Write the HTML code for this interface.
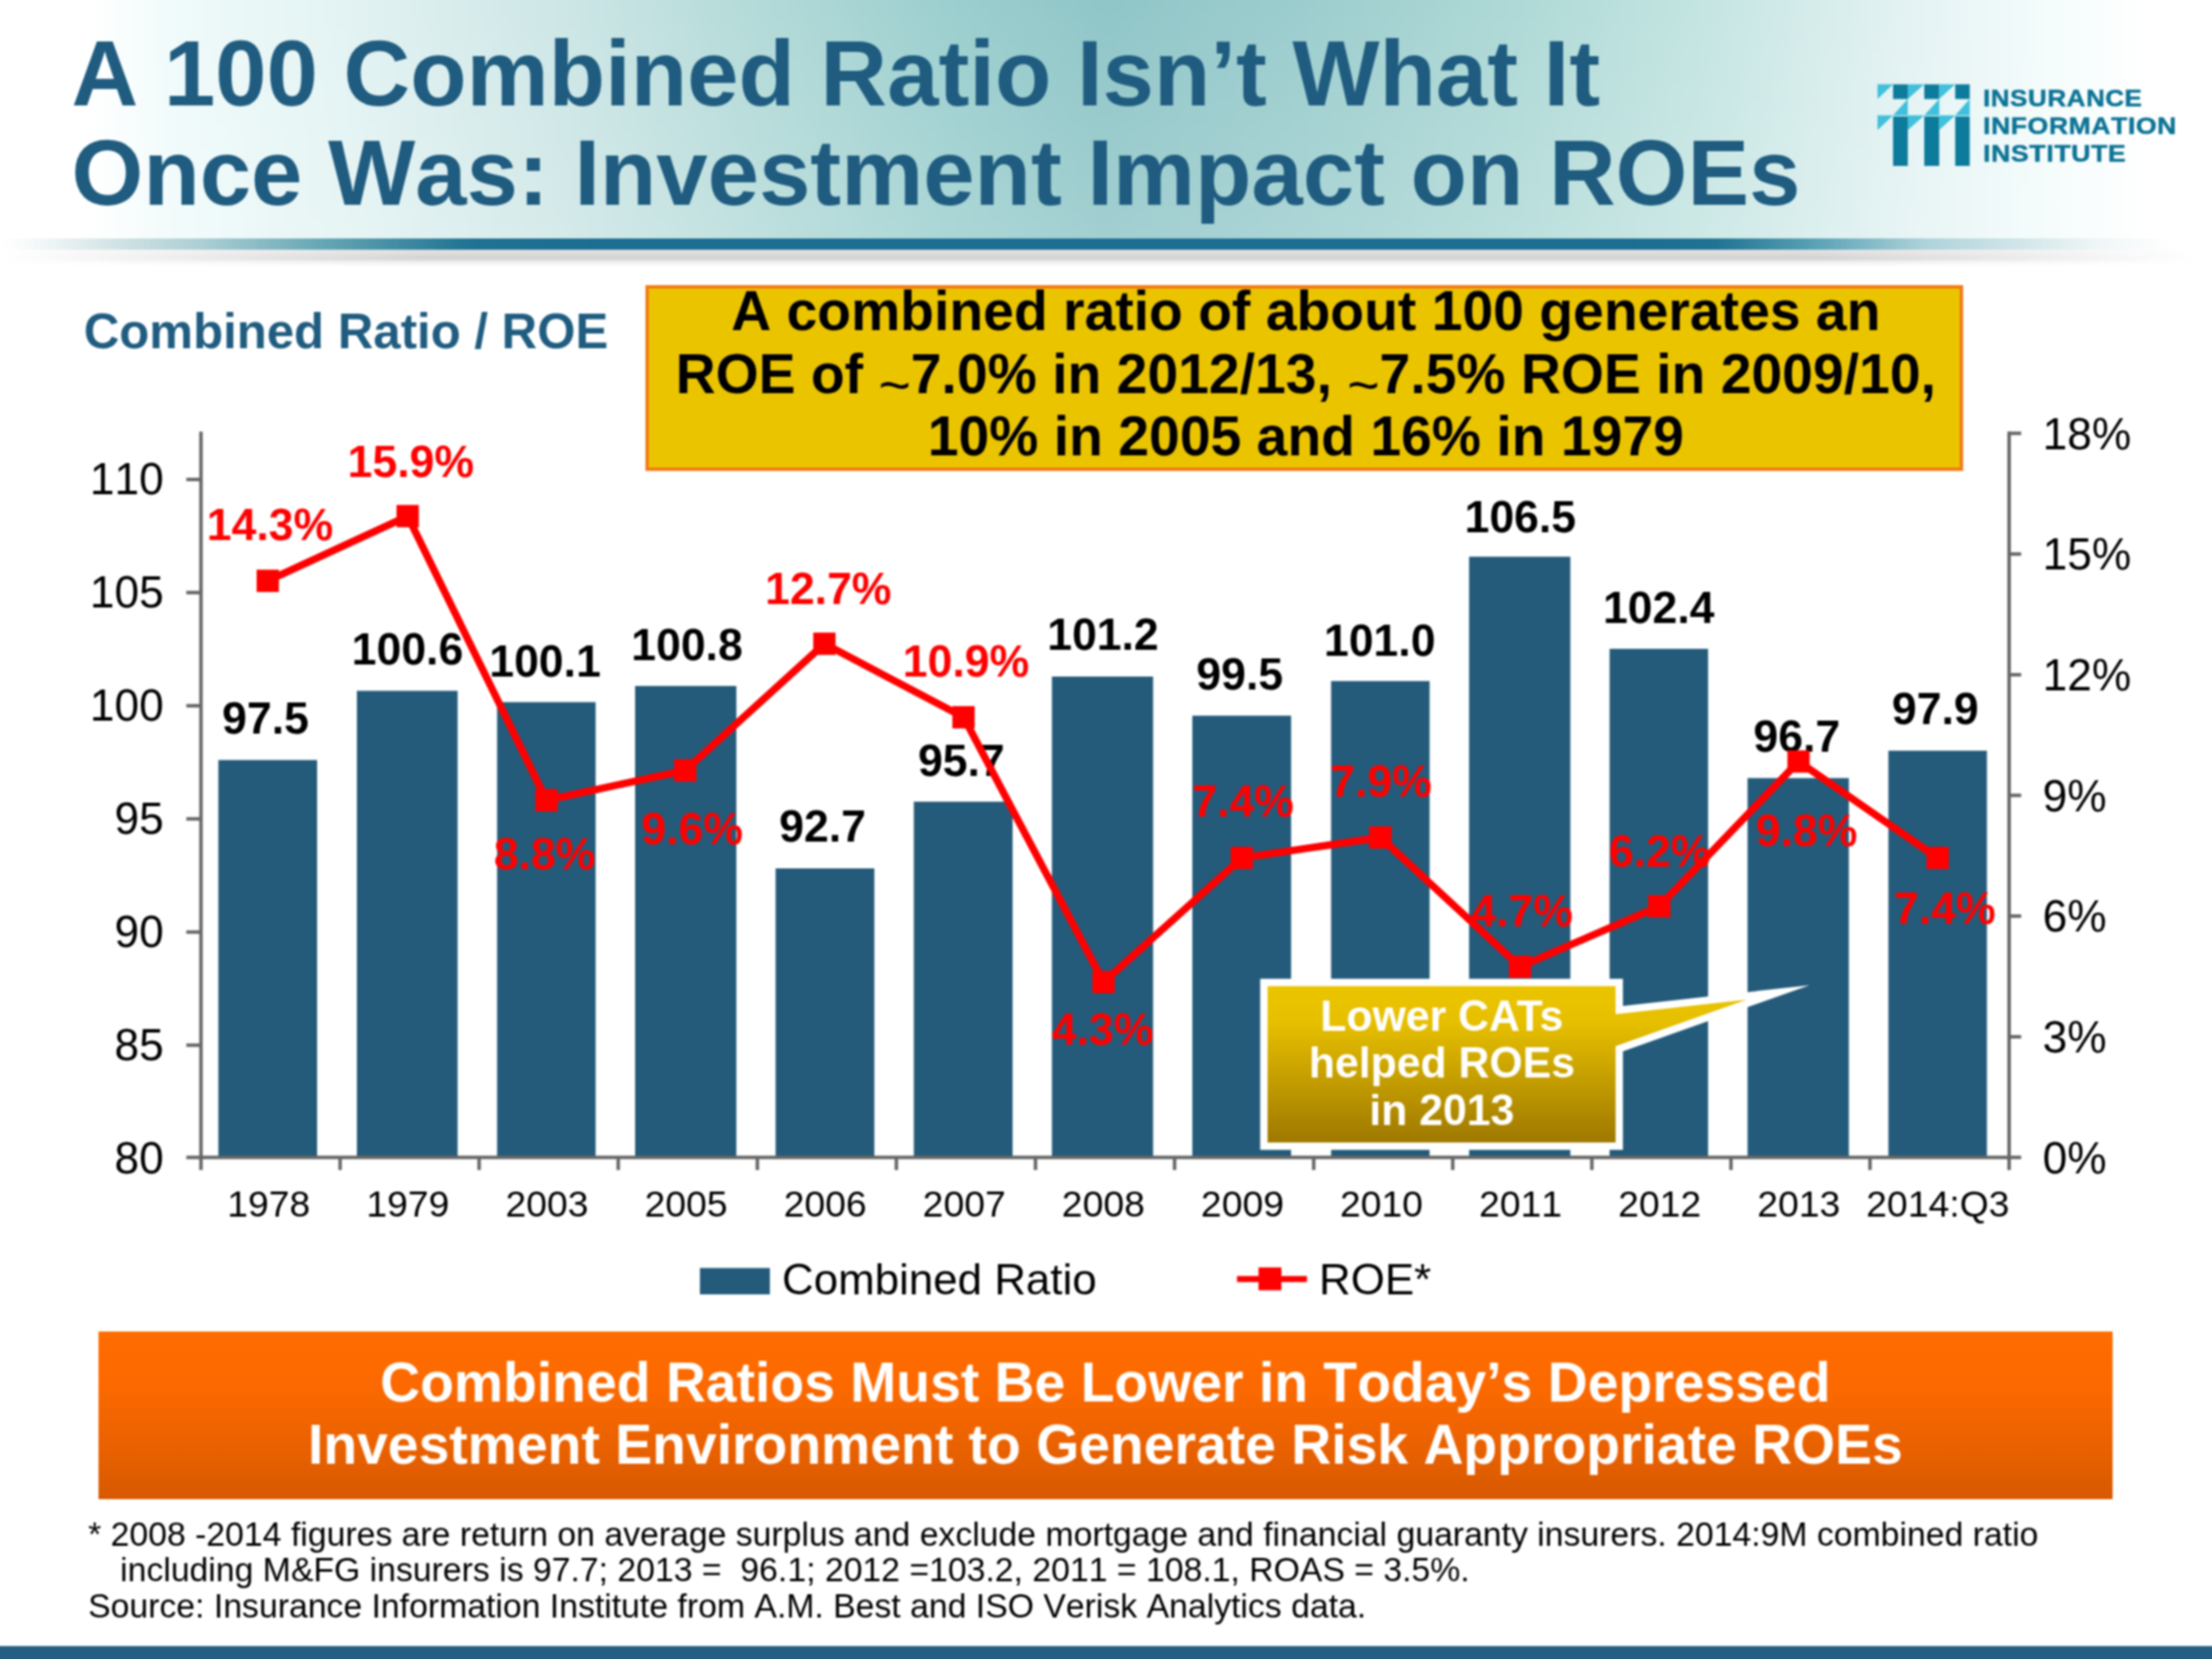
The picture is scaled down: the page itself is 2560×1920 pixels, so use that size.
<!DOCTYPE html>
<html><head><meta charset="utf-8"><title>A 100 Combined Ratio Isn't What It Once Was</title>
<style>
html,body{margin:0;padding:0;background:#fff;}
body{font-kerning:none;width:2560px;height:1920px;position:relative;overflow:hidden;font-family:"Liberation Sans",sans-serif;}
.hdr{position:absolute;left:0;top:-20px;width:2560px;height:297px;
 background:linear-gradient(to bottom,rgba(255,255,255,0) 20px,rgba(255,255,255,0.16) 100%),linear-gradient(to right,#ffffff 0px,#ffffff 105px,#f0fbfb 200px,#e3f3f3 400px,#cfe7e7 636px,#b4dbd9 868px,#9ccfcf 1100px,#90c6c8 1280px,#9ccdce 1500px,#aed9d6 1750px,#c4e5e2 1970px,#e3f2f3 2200px,#f4fcfc 2370px,#ffffff 2480px);}
.hline{position:absolute;left:0;top:276px;width:2560px;height:13px;
 background:linear-gradient(to right,rgba(150,190,195,0) 0px,rgba(150,190,195,0.05) 25px,rgba(150,190,195,0.45) 140px,rgba(120,175,185,0.6) 230px,rgba(80,155,170,0.85) 362px,#1f7393 542px,#1c6d92 700px,#1c6d92 1880px,#1f7393 1985px,rgba(60,145,168,0.85) 2100px,rgba(110,175,188,0.55) 2230px,rgba(150,195,200,0.15) 2430px,rgba(150,195,200,0) 2515px);}
.hshadow{position:absolute;left:0;top:289px;width:2560px;height:20px;
 background:linear-gradient(to bottom,rgba(150,146,144,0.25) 0,rgba(150,146,144,0.42) 10px,rgba(150,146,144,0.12) 15px,rgba(150,146,144,0) 20px);
 -webkit-mask-image:linear-gradient(to right,transparent 0,#000 500px,#000 2100px,transparent 2540px);mask-image:linear-gradient(to right,transparent 0,#000 500px,#000 2100px,transparent 2540px);}
.title{position:absolute;left:82.8px;top:27.5px;font-weight:bold;font-size:106.85px;line-height:115.1px;color:#1f5c80;white-space:nowrap;}
.sub{position:absolute;left:97px;top:350.2px;font-weight:bold;font-size:56.9px;line-height:66px;color:#1f5c80;white-space:nowrap;}
.note{position:absolute;left:746.5px;top:330px;width:1517.5px;height:206.6px;border:4px solid #f47a14;background:#ebc400;
 font-weight:bold;font-size:64px;line-height:72.3px;color:#000;text-align:center;white-space:nowrap;}
.note div{position:relative;top:-9.6px;left:2px;}
.tl{position:relative;top:13.2px;line-height:0;font-weight:normal;}
.banner{position:absolute;left:114px;top:1540.5px;width:2330.5px;height:194px;background:linear-gradient(to bottom,#ff6c00 0%,#fb6900 35%,#e96100 70%,#d75900 100%);
 font-weight:bold;font-size:64px;line-height:72.3px;color:#fff;text-align:center;white-space:nowrap;}
.banner div{position:relative;top:23.2px;}
.foot{position:absolute;left:102px;top:1754.5px;font-size:39.1px;line-height:41.7px;color:#000;white-space:pre;}
.bbar{position:absolute;left:-20px;top:1905px;width:2600px;height:40px;background:#245f83;}
.logot{position:absolute;left:2295px;top:96.5px;font-weight:bold;font-size:28.3px;line-height:32.4px;color:#0c7395;white-space:nowrap;letter-spacing:0.6px;-webkit-text-stroke:0.5px #0c7395;}
.logot div{transform-origin:left center;}
svg.chart{position:absolute;left:0;top:0;font-kerning:none;}
#w{position:absolute;left:0;top:0;width:2560px;height:1920px;overflow:hidden;}
#f{position:absolute;left:0;top:0;width:2560px;height:1920px;filter:blur(0.8px);}
</style></head><body><div id="w"><div id="f">
<div class="hdr"></div><div class="hline"></div><div class="hshadow"></div>
<div class="title">A 100 Combined Ratio Isn’t What It<br>Once Was: Investment Impact on ROEs</div>
<svg class="logo" width="140" height="110" viewBox="0 0 140 110" style="position:absolute;left:2165px;top:90px">
<g fill="#0d7b9b">
<rect x="25.9" y="7.6" width="17" height="17"/><rect x="62" y="7.6" width="17.3" height="17"/><rect x="97.8" y="7.6" width="16.8" height="17"/>
<rect x="25.9" y="44.7" width="17" height="57.3"/><rect x="62" y="44.7" width="17.3" height="57.3"/><rect x="97.8" y="44.7" width="16.8" height="57.3"/>
</g>
<g fill="#3fc0dc">
<path d="M7.9 7.6H25.9L7.9 24.6Z"/><path d="M43 7.6H62L43 24.6Z"/><path d="M79.3 7.6H97.8L79.3 24.6Z"/>
<path d="M42.9 24.6V43.5H25.9Z"/><path d="M79.3 24.6V43.5H62Z"/><path d="M114.6 24.6V43.5H97.8Z"/>
<path d="M7.9 43.5H25.9L7.9 60.5Z"/><path d="M43 43.5H62L43 60.5Z"/><path d="M79.3 43.5H97.8L79.3 60.5Z"/>
</g></svg>
<div class="logot"><div style="transform:scaleX(1.063)">INSURANCE</div><div style="transform:scaleX(1.088)">INFORMATION</div><div style="transform:scaleX(1.094)">INSTITUTE</div></div>
<div class="sub">Combined Ratio / ROE</div>
<div class="note"><div>A combined ratio of about 100 generates an<br>ROE of <span class="tl">~</span>7.0% in 2012/13, <span class="tl">~</span>7.5% ROE in 2009/10,<br>10% in 2005 and 16% in 1979</div></div>
<svg class="chart" width="2560" height="1920" viewBox="0 0 2560 1920">
<defs><linearGradient id="gold" x1="0" y1="0" x2="0" y2="1"><stop offset="0" stop-color="#ecc500"/><stop offset="0.25" stop-color="#e6bf00"/><stop offset="1" stop-color="#9c7600"/></linearGradient></defs>
<rect x="252.7" y="879.6" width="114.3" height="460.0" fill="#245b7a"/>
<rect x="413.0" y="799.5" width="116.6" height="540.1" fill="#245b7a"/>
<rect x="575.3" y="812.6" width="114.0" height="527.0" fill="#245b7a"/>
<rect x="735.0" y="793.9" width="117.2" height="545.7" fill="#245b7a"/>
<rect x="897.6" y="1005.0" width="114.3" height="334.6" fill="#245b7a"/>
<rect x="1057.6" y="927.8" width="114.3" height="411.8" fill="#245b7a"/>
<rect x="1217.4" y="783.0" width="117.1" height="556.6" fill="#245b7a"/>
<rect x="1379.9" y="828.3" width="114.3" height="511.3" fill="#245b7a"/>
<rect x="1540.5" y="788.2" width="114.0" height="551.4" fill="#245b7a"/>
<rect x="1700.2" y="644.3" width="117.2" height="695.3" fill="#245b7a"/>
<rect x="1862.8" y="750.9" width="114.0" height="588.7" fill="#245b7a"/>
<rect x="2022.5" y="900.5" width="117.2" height="439.1" fill="#245b7a"/>
<rect x="2185.5" y="868.8" width="114.0" height="470.8" fill="#245b7a"/>
<g stroke="#666666" stroke-width="4" fill="none">
<path d="M232.6 499.5V1341.6"/>
<path d="M2325.2 499.5V1341.6"/>
<path d="M215.6 1339.6H2339.2"/>
<path d="M215.6 1209.6H232.6"/>
<path d="M215.6 1078.7H232.6"/>
<path d="M215.6 947.7H232.6"/>
<path d="M215.6 816.8H232.6"/>
<path d="M215.6 685.8H232.6"/>
<path d="M215.6 554.9H232.6"/>
<path d="M2325.2 1199.9H2339.2"/>
<path d="M2325.2 1060.2H2339.2"/>
<path d="M2325.2 920.5H2339.2"/>
<path d="M2325.2 780.9H2339.2"/>
<path d="M2325.2 641.2H2339.2"/>
<path d="M2325.2 501.5H2339.2"/>
<path d="M232.6 1339.6V1354.1"/>
<path d="M393.6 1339.6V1354.1"/>
<path d="M554.5 1339.6V1354.1"/>
<path d="M715.5 1339.6V1354.1"/>
<path d="M876.5 1339.6V1354.1"/>
<path d="M1037.4 1339.6V1354.1"/>
<path d="M1198.4 1339.6V1354.1"/>
<path d="M1359.4 1339.6V1354.1"/>
<path d="M1520.4 1339.6V1354.1"/>
<path d="M1681.3 1339.6V1354.1"/>
<path d="M1842.3 1339.6V1354.1"/>
<path d="M2003.3 1339.6V1354.1"/>
<path d="M2164.2 1339.6V1354.1"/>
<path d="M2325.2 1339.6V1354.1"/>
</g>
<g font-family="Liberation Sans, sans-serif" font-size="51.2" fill="#000">
<text x="189.5" y="1358.0" text-anchor="end">80</text>
<text x="189.5" y="1227.0" text-anchor="end">85</text>
<text x="189.5" y="1096.1" text-anchor="end">90</text>
<text x="189.5" y="965.1" text-anchor="end">95</text>
<text x="189.5" y="834.2" text-anchor="end">100</text>
<text x="189.5" y="703.2" text-anchor="end">105</text>
<text x="189.5" y="572.3" text-anchor="end">110</text>
<text x="2364" y="1357.6">0%</text>
<text x="2364" y="1217.9">3%</text>
<text x="2364" y="1078.2">6%</text>
<text x="2364" y="938.5">9%</text>
<text x="2364" y="798.9">12%</text>
<text x="2364" y="659.2">15%</text>
<text x="2364" y="519.5">18%</text>
</g>
<g font-family="Liberation Sans, sans-serif" font-size="43.2" fill="#000" text-anchor="middle">
<text x="311.1" y="1407.7">1978</text>
<text x="472.1" y="1407.7">1979</text>
<text x="633.0" y="1407.7">2003</text>
<text x="794.0" y="1407.7">2005</text>
<text x="955.0" y="1407.7">2006</text>
<text x="1115.9" y="1407.7">2007</text>
<text x="1276.9" y="1407.7">2008</text>
<text x="1437.9" y="1407.7">2009</text>
<text x="1598.8" y="1407.7">2010</text>
<text x="1759.8" y="1407.7">2011</text>
<text x="1920.8" y="1407.7">2012</text>
<text x="2081.7" y="1407.7">2013</text>
<text x="2242.7" y="1407.7">2014:Q3</text>
</g>
<g font-family="Liberation Sans, sans-serif" font-weight="bold" font-size="51.6" text-anchor="middle">
<text x="307.3" y="848.8" fill="#000">97.5</text>
<text x="471.6" y="769.0" fill="#000">100.6</text>
<text x="630.8" y="782.5" fill="#000">100.1</text>
<text x="795.1" y="763.9" fill="#000">100.8</text>
<text x="952.0" y="974.4" fill="#000">92.7</text>
<text x="1112.6" y="897.7" fill="#000">95.7</text>
<text x="1276.5" y="751.7" fill="#000">101.2</text>
<text x="1434.8" y="797.9" fill="#000">99.5</text>
<text x="1596.8" y="758.9" fill="#000">101.0</text>
<text x="1759.5" y="615.6" fill="#000">106.5</text>
<text x="1919.7" y="720.5" fill="#000">102.4</text>
<text x="2079.5" y="869.9" fill="#000">96.7</text>
<text x="2239.8" y="838.0" fill="#000">97.9</text>
<text x="312.5" y="625.2" fill="#ff0000">14.3%</text>
<text x="475.4" y="551.7" fill="#ff0000">15.9%</text>
<text x="630.2" y="1005.6" fill="#ff0000">8.8%</text>
<text x="801.0" y="976.7" fill="#ff0000">9.6%</text>
<text x="958.6" y="698.6" fill="#ff0000">12.7%</text>
<text x="1118.0" y="783.4" fill="#ff0000">10.9%</text>
<text x="1276.0" y="1209.4" fill="#ff0000">4.3%</text>
<text x="1438.7" y="945.2" fill="#ff0000">7.4%</text>
<text x="1598.3" y="922.0" fill="#ff0000">7.9%</text>
<text x="1761.6" y="1072.4" fill="#ff0000">4.7%</text>
<text x="1920.9" y="1002.5" fill="#ff0000">6.2%</text>
<text x="2090.8" y="978.7" fill="#ff0000">9.8%</text>
<text x="2250.8" y="1068.7" fill="#ff0000">7.4%</text>
</g>
<polyline points="309.9,672.2 471.8,597.3 632.5,926.2 793.0,891.6 954.1,745.0 1115.2,830.1 1277.2,1136.6 1437.2,993.0 1597.6,969.2 1759.3,1118.8 1920.4,1048.9 2081.5,881.3 2242.5,993.0" fill="none" stroke="#ff0000" stroke-width="8.5" stroke-linejoin="round"/>
<rect x="297.0" y="659.3" width="25.8" height="25.8" fill="#ff0000"/>
<rect x="458.9" y="584.4" width="25.8" height="25.8" fill="#ff0000"/>
<rect x="619.6" y="913.3" width="25.8" height="25.8" fill="#ff0000"/>
<rect x="780.1" y="878.7" width="25.8" height="25.8" fill="#ff0000"/>
<rect x="941.2" y="732.1" width="25.8" height="25.8" fill="#ff0000"/>
<rect x="1102.2" y="817.2" width="25.8" height="25.8" fill="#ff0000"/>
<rect x="1264.3" y="1123.7" width="25.8" height="25.8" fill="#ff0000"/>
<rect x="1424.3" y="980.1" width="25.8" height="25.8" fill="#ff0000"/>
<rect x="1584.7" y="956.3" width="25.8" height="25.8" fill="#ff0000"/>
<rect x="1746.4" y="1105.9" width="25.8" height="25.8" fill="#ff0000"/>
<rect x="1907.5" y="1036.0" width="25.8" height="25.8" fill="#ff0000"/>
<rect x="2068.6" y="868.4" width="25.8" height="25.8" fill="#ff0000"/>
<rect x="2229.6" y="980.1" width="25.8" height="25.8" fill="#ff0000"/>
<rect x="810" y="1467.5" width="81" height="30.5" fill="#245b7a"/>
<path d="M1431.6 1480.2H1512.6" stroke="#ff0000" stroke-width="7"/>
<rect x="1456.5" y="1466.8" width="26.5" height="26.5" fill="#ff0000"/>
<g font-family="Liberation Sans, sans-serif" font-size="50.8" fill="#000"><text x="905" y="1498.1">Combined Ratio</text><text x="1526.5" y="1498.1">ROE*</text></g>
<path d="M1462.7 1137H1874V1169L2058 1148.5L1874 1213.7V1326.6H1462.7Z" fill="url(#gold)" stroke="#fff" stroke-width="8.5" stroke-miterlimit="20"/>
<g font-family="Liberation Sans, sans-serif" font-weight="bold" font-size="49.5" fill="#fff" text-anchor="middle"><text x="1668.7" y="1193.4" style="font-kerning:normal">Lower CATs</text><text x="1668.7" y="1247.2">helped ROEs</text><text x="1668.7" y="1302.4">in 2013</text></g>
</svg>
<div class="banner"><div>Combined Ratios Must Be Lower in Today’s Depressed<br>Investment Environment to Generate Risk Appropriate ROEs</div></div>
<div class="foot">* 2008 -2014 figures are return on average surplus and exclude mortgage and financial guaranty insurers. 2014:9M combined ratio
<span style="display:inline-block;width:37px"></span>including M&amp;FG insurers is 97.7; 2013 =  96.1; 2012 =103.2, 2011 = 108.1, ROAS = 3.5%.
Source: Insurance Information Institute from A.M. Best and ISO Verisk Analytics data.</div>
<div class="bbar"></div>
</div></div></body></html>
